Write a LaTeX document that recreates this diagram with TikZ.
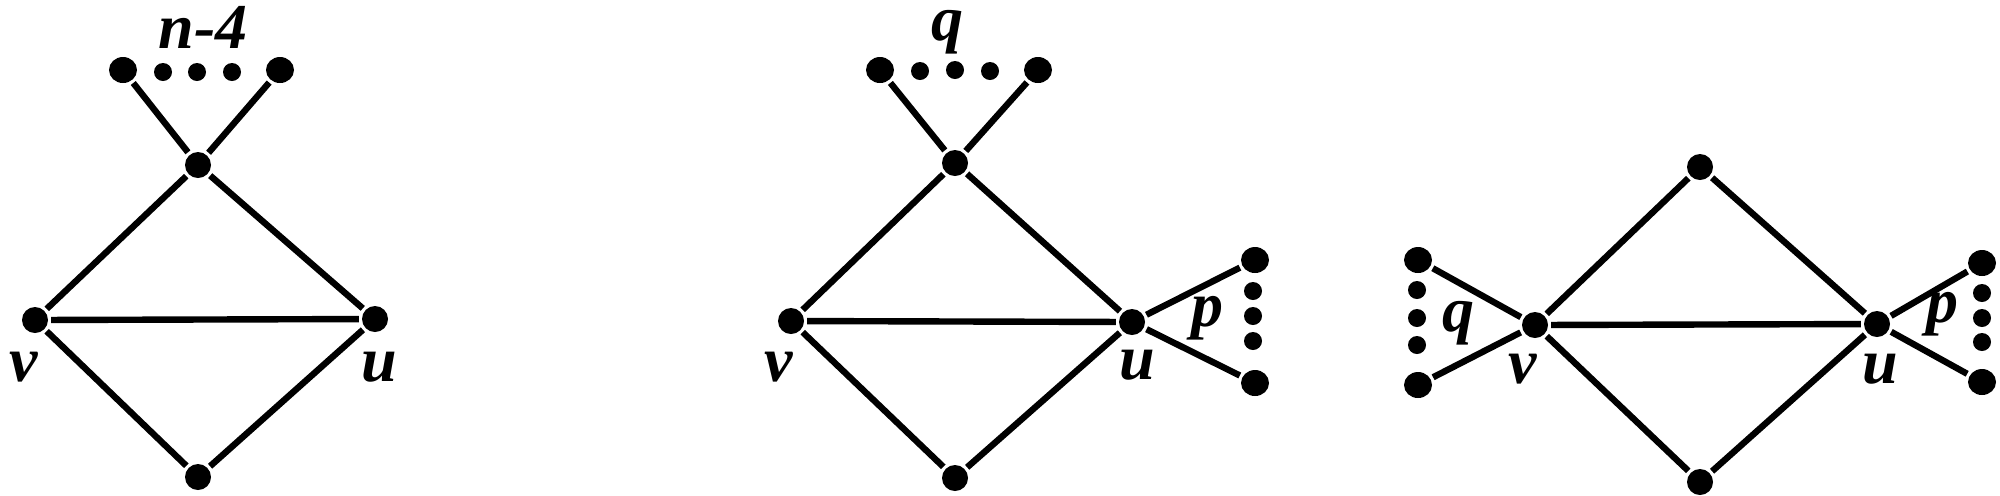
\documentclass[tikz,border=0pt]{standalone}
\usepackage{fontspec}
\setmainfont{Liberation Serif}
\usetikzlibrary{shapes.geometric}
\begin{document}
\begin{tikzpicture}[x=0.5pt,y=-0.5pt,line width=3.2pt,
  vtx/.style={circle,fill,inner sep=0pt,minimum size=13pt},
  leaf/.style={ellipse,fill,inner sep=0pt,minimum width=14pt,minimum height=13pt},
  sdot/.style={circle,fill,inner sep=0pt,minimum size=9pt},
  lab/.style={anchor=base,inner sep=0pt,font=\fontsize{32}{36}\selectfont\bfseries\itshape}]
\useasboundingbox (0,0) rectangle (2000,495);
% ---------- graph 1
\node[vtx] (t1) at (198,165) {};
\node[vtx] (v1) at (35,320) {};
\node[vtx] (u1) at (375,319) {};
\node[vtx] (b1) at (198,477) {};
\node[leaf] (l1a) at (123,70) {};
\node[leaf] (l1b) at (280,70) {};
\node[sdot] (d11) at (163,72) {};
\node[sdot] (d12) at (197,72) {};
\node[sdot] (d13) at (232,72) {};
\draw (t1) -- (v1) (t1) -- (u1) (v1) -- (u1) (v1) -- (b1) (u1) -- (b1)
      (t1) -- (l1a) (t1) -- (l1b);
\node[lab] (n4) at (203,48) {n-4};
\node[lab] (lv1) at (24,381) {v};
\node[lab] (lu1) at (379,381) {u};
% ---------- graph 2
\node[vtx] (t2) at (955,163) {};
\node[vtx] (v2) at (791,321) {};
\node[vtx] (u2) at (1132,322) {};
\node[vtx] (b2) at (955,478) {};
\node[leaf] (l2a) at (880,70) {};
\node[leaf] (l2b) at (1038,70) {};
\node[sdot] (d21) at (920,71) {};
\node[sdot] (d22) at (955,70) {};
\node[sdot] (d23) at (990,71) {};
\node[leaf] (r2a) at (1255,260) {};
\node[leaf] (r2b) at (1255,383) {};
\node[sdot] (e21) at (1253,291) {};
\node[sdot] (e22) at (1253,316) {};
\node[sdot] (e23) at (1253,341) {};
\draw (t2) -- (v2) (t2) -- (u2) (v2) -- (u2) (v2) -- (b2) (u2) -- (b2)
      (t2) -- (l2a) (t2) -- (l2b) (u2) -- (r2a) (u2) -- (r2b);
\node[lab,text height=0.45em] (q2) at (947,40) {q};
\node[lab] (p2) at (1207,326) {p};
\node[lab] (lv2) at (779,381) {v};
\node[lab] (lu2) at (1137,379) {u};
% ---------- graph 3
\node[vtx] (t3) at (1700,167) {};
\node[vtx] (v3) at (1535,325) {};
\node[vtx] (u3) at (1877,324) {};
\node[vtx] (b3) at (1700,482) {};
\node[leaf] (la3) at (1418,260) {};
\node[leaf] (lb3) at (1418,385) {};
\node[sdot] (d31) at (1417,290) {};
\node[sdot] (d32) at (1417,318) {};
\node[sdot] (d33) at (1417,345) {};
\node[leaf] (ra3) at (1982,263) {};
\node[leaf] (rb3) at (1982,382) {};
\node[sdot] (e31) at (1982,293) {};
\node[sdot] (e32) at (1982,318) {};
\node[sdot] (e33) at (1982,342) {};
\draw (t3) -- (v3) (t3) -- (u3) (v3) -- (u3) (v3) -- (b3) (u3) -- (b3)
      (v3) -- (la3) (v3) -- (lb3) (u3) -- (ra3) (u3) -- (rb3);
\node[lab] (q3) at (1458,331) {q};
\node[lab] (p3) at (1942,322) {p};
\node[lab] (lv3) at (1523,383) {v};
\node[lab] (lu3) at (1880,383) {u};
\end{tikzpicture}
\end{document}
